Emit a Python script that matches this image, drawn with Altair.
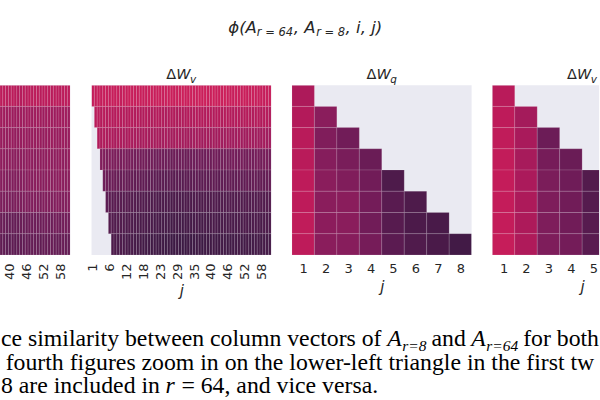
import json
import altair as alt
import pandas as pd

# ---------------- data ----------------
ROW_IDS = [1, 2, 3, 4, 5, 6, 7, 8]

# Panel 1: Delta W_q, 64 columns -- only columns 40..64 are visible in the crop
dwq64_first_col = 40
dwq64 = [
    [0.53, 0.53, 0.52, 0.52, 0.53, 0.52, 0.51, 0.51, 0.52, 0.52, 0.53, 0.52, 0.53, 0.53, 0.52, 0.53, 0.53, 0.53, 0.52, 0.53, 0.53, 0.52, 0.53, 0.53, 0.53],
    [0.46, 0.46, 0.45, 0.46, 0.45, 0.45, 0.45, 0.46, 0.45, 0.46, 0.46, 0.45, 0.46, 0.46, 0.46, 0.45, 0.46, 0.46, 0.46, 0.45, 0.46, 0.46, 0.46, 0.46, 0.45],
    [0.44, 0.44, 0.43, 0.44, 0.44, 0.43, 0.43, 0.44, 0.44, 0.44, 0.43, 0.44, 0.44, 0.44, 0.44, 0.43, 0.44, 0.44, 0.45, 0.44, 0.44, 0.44, 0.45, 0.44, 0.44],
    [0.42, 0.42, 0.41, 0.42, 0.41, 0.41, 0.41, 0.42, 0.41, 0.42, 0.42, 0.42, 0.41, 0.42, 0.42, 0.42, 0.42, 0.43, 0.42, 0.42, 0.42, 0.43, 0.42, 0.42, 0.43],
    [0.40, 0.40, 0.39, 0.39, 0.39, 0.39, 0.39, 0.40, 0.40, 0.40, 0.41, 0.40, 0.41, 0.41, 0.41, 0.40, 0.41, 0.41, 0.41, 0.41, 0.41, 0.42, 0.41, 0.41, 0.41],
    [0.38, 0.38, 0.38, 0.38, 0.37, 0.38, 0.38, 0.38, 0.38, 0.39, 0.38, 0.39, 0.39, 0.39, 0.38, 0.39, 0.39, 0.39, 0.39, 0.39, 0.40, 0.39, 0.39, 0.39, 0.40],
    [0.34, 0.34, 0.33, 0.33, 0.33, 0.33, 0.33, 0.34, 0.34, 0.34, 0.35, 0.35, 0.35, 0.35, 0.35, 0.35, 0.36, 0.35, 0.35, 0.36, 0.36, 0.35, 0.36, 0.36, 0.36],
    [0.32, 0.32, 0.31, 0.31, 0.32, 0.31, 0.32, 0.32, 0.32, 0.33, 0.32, 0.33, 0.33, 0.33, 0.32, 0.33, 0.33, 0.33, 0.34, 0.33, 0.33, 0.33, 0.34, 0.33, 0.33],
]

# Panel 2: Delta W_v, 64 columns; row i starts at column i (j >= i)
dwv64 = [
    [0.55, 0.55, 0.56, 0.55, 0.56, 0.56, 0.55, 0.56, 0.56, 0.56, 0.55, 0.56, 0.56, 0.57, 0.56, 0.56, 0.56, 0.57, 0.56, 0.56,
     0.57, 0.57, 0.56, 0.57, 0.57, 0.56, 0.57, 0.57, 0.57, 0.56, 0.57, 0.57, 0.58, 0.57, 0.57, 0.58, 0.57, 0.57, 0.58, 0.57,
     0.58, 0.57, 0.57, 0.58, 0.57, 0.57, 0.57, 0.58, 0.57, 0.57, 0.56, 0.57, 0.57, 0.56, 0.57, 0.56, 0.56, 0.57, 0.56, 0.56,
     0.56, 0.55, 0.56, 0.56],
    [0.52, 0.52, 0.51, 0.52, 0.51, 0.52, 0.51, 0.51, 0.52, 0.51, 0.51, 0.50, 0.51, 0.51, 0.50, 0.51, 0.50, 0.50, 0.51, 0.50,
     0.50, 0.50, 0.51, 0.50, 0.50, 0.49, 0.50, 0.50, 0.50, 0.49, 0.50, 0.50, 0.50, 0.51, 0.50, 0.50, 0.51, 0.50, 0.51, 0.50,
     0.51, 0.51, 0.50, 0.51, 0.51, 0.50, 0.51, 0.51, 0.51, 0.50, 0.51, 0.51, 0.50, 0.51, 0.51, 0.51, 0.50, 0.51, 0.51, 0.50,
     0.51, 0.51, 0.50],
    [0.50, 0.49, 0.50, 0.49, 0.49, 0.49, 0.48, 0.49, 0.49, 0.48, 0.48, 0.49, 0.48, 0.48, 0.48, 0.47, 0.48, 0.48, 0.47, 0.48,
     0.47, 0.48, 0.47, 0.47, 0.48, 0.47, 0.47, 0.47, 0.48, 0.47, 0.47, 0.47, 0.47, 0.46, 0.47, 0.47, 0.47, 0.46, 0.47, 0.47,
     0.46, 0.47, 0.46, 0.47, 0.46, 0.46, 0.47, 0.46, 0.46, 0.46, 0.47, 0.46, 0.46, 0.46, 0.47, 0.46, 0.46, 0.46, 0.46, 0.47,
     0.46, 0.46],
    [0.39, 0.39, 0.38, 0.39, 0.38, 0.38, 0.38, 0.37, 0.38, 0.37, 0.37, 0.37, 0.36, 0.37, 0.36, 0.36, 0.36, 0.35, 0.36, 0.35,
     0.35, 0.36, 0.35, 0.35, 0.35, 0.34, 0.35, 0.35, 0.35, 0.35, 0.34, 0.35, 0.35, 0.35, 0.35, 0.36, 0.35, 0.35, 0.36, 0.35,
     0.36, 0.36, 0.35, 0.36, 0.36, 0.36, 0.36, 0.37, 0.36, 0.36, 0.37, 0.36, 0.36, 0.37, 0.36, 0.37, 0.37, 0.36, 0.37, 0.37,
     0.36],
    [0.35, 0.35, 0.34, 0.35, 0.34, 0.34, 0.33, 0.34, 0.33, 0.33, 0.33, 0.32, 0.33, 0.32, 0.32, 0.32, 0.31, 0.32, 0.31, 0.31,
     0.31, 0.31, 0.30, 0.31, 0.31, 0.30, 0.31, 0.31, 0.30, 0.31, 0.31, 0.31, 0.31, 0.32, 0.31, 0.31, 0.32, 0.31, 0.32, 0.32,
     0.32, 0.31, 0.32, 0.32, 0.32, 0.33, 0.32, 0.32, 0.33, 0.32, 0.32, 0.33, 0.32, 0.33, 0.33, 0.32, 0.33, 0.32, 0.33, 0.33],
    [0.31, 0.31, 0.30, 0.31, 0.30, 0.30, 0.29, 0.30, 0.29, 0.29, 0.29, 0.28, 0.29, 0.28, 0.28, 0.28, 0.27, 0.28, 0.27, 0.27,
     0.27, 0.27, 0.27, 0.26, 0.27, 0.27, 0.27, 0.26, 0.27, 0.27, 0.27, 0.27, 0.28, 0.27, 0.27, 0.28, 0.27, 0.28, 0.28, 0.28,
     0.27, 0.28, 0.28, 0.28, 0.29, 0.28, 0.28, 0.29, 0.28, 0.28, 0.29, 0.28, 0.29, 0.28, 0.29, 0.29, 0.28, 0.29, 0.29],
    [0.29, 0.29, 0.28, 0.29, 0.28, 0.28, 0.27, 0.28, 0.27, 0.27, 0.27, 0.26, 0.27, 0.26, 0.26, 0.26, 0.25, 0.26, 0.25, 0.25,
     0.25, 0.25, 0.24, 0.25, 0.25, 0.25, 0.24, 0.25, 0.25, 0.25, 0.25, 0.26, 0.25, 0.25, 0.26, 0.25, 0.26, 0.26, 0.26, 0.25,
     0.26, 0.26, 0.26, 0.27, 0.26, 0.26, 0.27, 0.26, 0.27, 0.27, 0.26, 0.27, 0.27, 0.27, 0.26, 0.27, 0.27, 0.27],
    [0.27, 0.27, 0.26, 0.27, 0.26, 0.26, 0.25, 0.26, 0.25, 0.25, 0.25, 0.24, 0.24, 0.24, 0.23, 0.24, 0.23, 0.23, 0.23, 0.22,
     0.23, 0.22, 0.22, 0.23, 0.22, 0.22, 0.22, 0.23, 0.22, 0.22, 0.23, 0.23, 0.22, 0.23, 0.23, 0.23, 0.24, 0.23, 0.23, 0.24,
     0.24, 0.23, 0.24, 0.24, 0.24, 0.25, 0.24, 0.24, 0.25, 0.24, 0.24, 0.25, 0.25, 0.24, 0.25, 0.25, 0.25],
]

# Panel 3: Delta W_q, 8x8 lower triangle (row i holds columns 1..i)
dwq8 = [
    [0.49],
    [0.505, 0.41],
    [0.52, 0.39, 0.36],
    [0.52, 0.40, 0.375, 0.345],
    [0.535, 0.41, 0.39, 0.36, 0.275],
    [0.535, 0.41, 0.41, 0.365, 0.305, 0.275],
    [0.54, 0.415, 0.41, 0.36, 0.30, 0.27, 0.26],
    [0.535, 0.41, 0.405, 0.37, 0.31, 0.28, 0.265, 0.24],
]

# Panel 4: Delta W_v, 8x8 lower triangle (only columns 1..5 visible in the crop)
dwv8 = [
    [0.52],
    [0.535, 0.47],
    [0.54, 0.48, 0.35],
    [0.545, 0.475, 0.37, 0.345],
    [0.55, 0.485, 0.38, 0.355, 0.29],
    [0.55, 0.49, 0.385, 0.36, 0.295, 0.27],
    [0.55, 0.49, 0.385, 0.36, 0.30, 0.275, 0.26],
    [0.555, 0.495, 0.385, 0.365, 0.305, 0.28, 0.265, 0.25],
]

tick_labels_64 = ["1", "6", "12", "18", "23", "29", "35", "40", "46", "52", "58"]
tick_labels_8 = ["1", "2", "3", "4", "5", "6", "7", "8"]

# ---------------- helpers ----------------
def to_frame(rows, first_cols):
    recs = []
    for i, (row, c0) in zip(ROW_IDS, zip(rows, first_cols)):
        for k, v in enumerate(row):
            j = c0 + k
            recs.append({"i": i, "j": j, "x0": j - 1, "x1": j, "y0": i - 1, "y1": i, "v": v})
    return pd.DataFrame(recs)


df_q64 = to_frame(dwq64, [dwq64_first_col] * 8)
df_v64 = to_frame(dwv64, ROW_IDS)
df_q8 = to_frame(dwq8, [1] * 8)
df_v8 = to_frame(dwv8, [1] * 8)

cscale = alt.Scale(
    domain=[0.20, 0.25, 0.30, 0.35, 0.40, 0.45, 0.50, 0.55, 0.60],
    range=["#361840", "#451a47", "#571b4f", "#6c1c57", "#851d5c", "#9c1b5c", "#b11a5a", "#c41c5a", "#d3215a"],
    interpolate="rgb",
)

W64 = 180.0
W8 = 180.0
H = 170.0
SPACING = 20.7
CELL64 = W64 / 64
CELL8 = W8 / 8
P1W = 70.3
P4W = 107.0
# page offset of panel 2's plot area (annotation layer lives there)
OX, OY = P1W + SPACING, 84.3


def txt(text, x, y, size, style="normal", font="DejaVu Sans", color="#262626", limit=None):
    kw = dict(text=text, align="left", baseline="alphabetic", font=font, fontSize=size,
              fontStyle=style, color=color)
    if limit is not None:
        kw.update(limit=limit, ellipsis="\u200b")
    return alt.Chart(pd.DataFrame({"a": [0]})).mark_text(**kw).encode(
        x=alt.value(x), y=alt.value(y))


def panel_title(sub, center):
    s = center - 15.2
    return [
        txt("Δ", s, -6.3, 14.5),
        txt("W", s + 10.0, -6.3, 14.5, style="italic"),
        txt(sub, s + 23.8, -2.6, 10.5, style="italic"),
    ]


def heat(df, width, xdom, tick_vals, labels, step, angle, axis_title, title_x=None):
    label_expr = f"{json.dumps(labels)}[round((datum.value - 0.5) / {step})]"
    ax = dict(values=tick_vals, labelExpr=label_expr, labelAngle=angle)
    if angle != 0:
        ax.update(labelAlign="right", labelBaseline="middle")
    if axis_title:
        ax["title"] = "j"
        if title_x is not None:
            ax["titleX"] = title_x
    else:
        ax["title"] = None
    return alt.Chart(df).mark_rect(clip=True, stroke="#ffffff", strokeOpacity=0.16, strokeWidth=0.8).encode(
        x=alt.X("x0:Q", scale=alt.Scale(domain=xdom, nice=False, zero=False), axis=alt.Axis(**ax)),
        x2="x1:Q",
        y=alt.Y("y0:Q", scale=alt.Scale(domain=[0, 8], reverse=True, nice=False, zero=False), axis=None),
        y2="y1:Q",
        color=alt.Color("v:Q", scale=cscale, legend=None),
    )


ticks64 = [6 * k + 0.5 for k in range(len(tick_labels_64))]
ticks8 = [k + 0.5 for k in range(len(tick_labels_8))]

# Panel 1 (cropped on the left)
p1_lo = 64 - P1W / CELL64
p1 = heat(df_q64, P1W, [p1_lo, 64], [t for t in ticks64 if t > p1_lo], tick_labels_64, 6, -90, False).properties(
    width=P1W, height=H)

# Panel 2 with main title and caption annotations
rel = lambda px: px - OX
rely = lambda py: py - OY
CAP = 23.8
SUB = 15.5
SER = "Liberation Serif"
BLK = "#000000"
ann = [
    # main title  phi(A_{r=64}, A_{r=8}, i, j)
    txt("ϕ(A", rel(228), rely(32), 16.5, style="italic"),
    txt("r = 64", rel(256.5), rely(35.5), 11.5, style="italic"),
    txt(", A", rel(293.5), rely(32), 16.5, style="italic"),
    txt("r = 8", rel(316), rely(35.5), 11.5, style="italic"),
    txt(", i, j)", rel(345.5), rely(32), 16.5, style="italic"),
    # caption line 1
    txt("ce similarity between column vectors of", rel(0.3), rely(346), CAP, font=SER, color=BLK),
    txt("A", rel(387.2), rely(346), CAP, style="italic", font=SER, color=BLK),
    txt("r=8", rel(402.3), rely(350.5), SUB, style="italic", font=SER, color=BLK),
    txt("and", rel(431.6), rely(346), CAP, font=SER, color=BLK),
    txt("A", rel(471.3), rely(346), CAP, style="italic", font=SER, color=BLK),
    txt("r=64", rel(486.4), rely(350.5), SUB, style="italic", font=SER, color=BLK),
    txt("for both", rel(523.3), rely(346), CAP, font=SER, color=BLK, limit=76.5),
    # caption line 2
    txt("fourth figures zoom in on the lower-left triangle in the first two", rel(5), rely(369.5), CAP,
        font=SER, color=BLK, limit=594),
    # caption line 3
    txt("8 are included in", rel(0.3), rely(393), CAP, font=SER, color=BLK),
    txt("r", rel(165.2), rely(393), CAP, style="italic", font=SER, color=BLK),
    txt("= 64, and vice versa.", rel(181), rely(393), CAP, font=SER, color=BLK),
]
p2 = alt.layer(
    heat(df_v64, W64, [0, 64], ticks64, tick_labels_64, 6, -90, True),
    *panel_title("v", W64 / 2),
    *ann,
).properties(width=W64, height=H)

p3 = alt.layer(
    heat(df_q8, W8, [0, 8], ticks8, tick_labels_8, 1, 0, True),
    *panel_title("q", W8 / 2),
).properties(width=W8, height=H)

p4_hi = P4W / CELL8
p4 = alt.layer(
    heat(df_v8, P4W, [0, p4_hi], [t for t in ticks8 if t < p4_hi], tick_labels_8, 1, 0, True, title_x=W8 / 2),
    *panel_title("v", W8 / 2),
).properties(width=P4W, height=H)

chart = alt.hconcat(p1, p2, p3, p4, spacing=SPACING, bounds="flush").properties(
    padding={"left": 0, "top": 19.0, "right": 0, "bottom": 0},
    background="white",
).configure_view(
    stroke=None, fill="#EAEAF2"
).configure_axis(
    grid=False, domain=False, ticks=False,
    labelFont="DejaVu Sans", labelFontSize=13, labelColor="#262626", labelPadding=8,
    titleFont="DejaVu Sans", titleFontSize=15, titleFontStyle="italic", titleFontWeight="normal",
    titleColor="#262626", titlePadding=4,
)

chart.save("out.html", embed_options={"renderer": "svg", "actions": False})
